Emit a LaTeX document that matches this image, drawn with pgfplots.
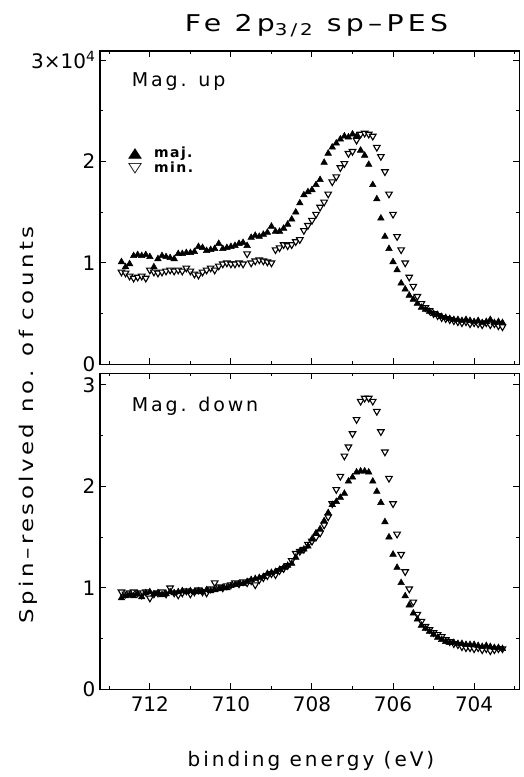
\documentclass[border=0pt]{standalone}
\usepackage{fontspec}
\setmainfont{DejaVu Sans}
\newfontfamily\hfont{DejaVu Sans}[LetterSpace=15]
\newfontfamily\lfont{DejaVu Sans}[LetterSpace=10]
\usepackage{graphicx}
\usepackage{pgfplots}
\usepackage{pgfplotstable}
\pgfplotsset{compat=1.18}

\pgfplotstableread{
E     TM   Tm   BM   Bm
712.7 1.01 0.91 0.90 0.96
712.6 0.96 0.90 0.92 0.94
712.5 0.99 0.87 0.93 0.95
712.4 1.07 0.85 0.92 0.96
712.3 1.08 0.86 0.94 0.95
712.2 1.07 0.87 0.91 0.93
712.1 1.08 0.85 0.95 0.96
712.0 1.06 0.93 0.96 0.90
711.9 0.96 0.91 0.94 0.94
711.8 1.04 0.90 0.95 0.95
711.7 1.07 0.91 0.93 0.96
711.6 1.06 0.92 0.94 0.94
711.5 1.05 0.93 0.96 1.00
711.4 1.04 0.92 0.95 0.95
711.3 1.09 0.93 0.96 0.93
711.2 1.09 0.92 0.97 0.95
711.1 1.10 0.95 0.96 0.97
711.0 1.10 0.92 0.97 0.94
710.9 1.11 0.89 0.96 0.96
710.8 1.16 0.88 0.97 0.98
710.7 1.15 0.91 0.96 0.96
710.6 1.12 0.93 0.98 0.95
710.5 1.13 0.95 0.97 0.99
710.4 1.14 0.93 0.98 1.05
710.3 1.19 0.97 0.99 1.01
710.2 1.14 0.99 1.00 1.00
710.1 1.15 1.00 1.00 1.02
710.0 1.16 0.99 1.02 1.03
709.9 1.17 0.99 1.03 1.05
709.8 1.19 1.00 1.04 1.04
709.7 1.20 0.99 1.04 1.06
709.6 1.17 1.09 1.06 1.05
709.5 1.25 1.00 1.08 1.07
709.4 1.27 1.02 1.09 1.03
709.3 1.26 1.03 1.10 1.08
709.2 1.28 1.02 1.11 1.10
709.1 1.30 1.01 1.14 1.12
709.0 1.36 1.00 1.15 1.14
708.9 1.31 1.13 1.16 1.13
708.8 1.31 1.15 1.18 1.17
708.7 1.34 1.18 1.20 1.19
708.6 1.38 1.17 1.22 1.22
708.5 1.43 1.18 1.24 1.27
708.4 1.50 1.21 1.30 1.34
708.3 1.59 1.23 1.36 1.36
708.2 1.67 1.32 1.38 1.38
708.1 1.70 1.37 1.41 1.43
708.0 1.72 1.42 1.48 1.46
707.9 1.77 1.48 1.54 1.50
707.8 1.82 1.55 1.58 1.54
707.7 1.99 1.60 1.66 1.62
707.6 2.08 1.68 1.74 1.70
707.5 2.14 1.80 1.82 1.83
707.4 2.18 1.85 1.85 1.97
707.3 2.22 1.94 1.89 2.10
707.2 2.25 1.98 1.93 2.30
707.1 2.24 2.08 2.05 2.39
707.0 2.27 2.10 2.09 2.52
706.9 2.25 2.21 2.14 2.66
706.8 2.11 2.27 2.15 2.84
706.7 2.06 2.28 2.15 2.87
706.6 1.97 2.27 2.14 2.87
706.5 1.77 2.25 2.05 2.84
706.4 1.63 2.14 1.95 2.74
706.3 1.44 2.05 1.84 2.54
706.2 1.26 1.90 1.65 2.34
706.1 1.14 1.68 1.50 2.08
706.0 1.01 1.48 1.33 1.83
705.9 0.93 1.26 1.20 1.53
705.8 0.80 1.13 1.05 1.33
705.7 0.74 1.00 0.92 1.16
705.6 0.68 0.86 0.83 0.99
705.5 0.64 0.77 0.75 0.86
705.4 0.60 0.67 0.69 0.74
705.3 0.56 0.60 0.63 0.67
705.2 0.54 0.56 0.60 0.62
705.1 0.52 0.53 0.57 0.59
705.0 0.50 0.50 0.54 0.56
704.9 0.49 0.48 0.51 0.54
704.8 0.47 0.46 0.49 0.52
704.7 0.46 0.45 0.47 0.49
704.6 0.45 0.44 0.46 0.47
704.5 0.44 0.43 0.46 0.45
704.4 0.44 0.42 0.45 0.44
704.3 0.43 0.41 0.45 0.42
704.2 0.44 0.42 0.44 0.41
704.1 0.43 0.40 0.44 0.41
704.0 0.42 0.41 0.44 0.40
703.9 0.43 0.40 0.43 0.41
703.8 0.41 0.39 0.42 0.39
703.7 0.42 0.41 0.43 0.40
703.6 0.44 0.39 0.42 0.38
703.5 0.41 0.40 0.41 0.39
703.4 0.42 0.38 0.41 0.40
703.3 0.41 0.37 0.40 0.40
}\data

\newcommand\tickfont{\fontsize{20}{20}\selectfont}

\pgfplotsset{
  panel/.style={
    scale only axis, width=419.5pt,
    x dir=reverse, xmin=702.88, xmax=713.23, ymin=0,
    xtick={704,706,708,710,712}, minor xtick={703,705,707,709,711,713},
    ytick={0,1,2,3}, minor ytick={0.5,1.5,2.5},
    tick align=inside, tick pos=both,
    xticklabel pos=lower, yticklabel pos=left,
    major tick length=6pt, minor tick length=3pt,
    every tick/.style={black, line width=1pt},
    axis line style={line width=1.4pt},
    /pgf/number format/assume math mode=true,
    yticklabel style={font=\tickfont, xshift=-1pt},
    xticklabel style={font=\tickfont, yshift=-4pt},
    clip=false,
  },
  majst/.style={only marks, mark=triangle*, mark size=3.8pt,
    mark options={fill=black, draw=black, line width=0.5pt}},
  minst/.style={only marks, mark=triangle*, mark size=3.8pt,
    mark options={rotate=180, fill=white, draw=black, line width=1.1pt}},
}

\begin{document}
\begin{tikzpicture}
\path[use as bounding box] (0,0) rectangle (524pt,-777pt);

\begin{axis}[panel, at={(100pt,-51pt)}, anchor=north west, height=313.3pt,
  ymax=3.09, xticklabels={}, yticklabels={0,1,2,3×10\textsuperscript{4}}]
  \addplot[minst] table[x=E,y=Tm]{\data};
  \addplot[majst] table[x=E,y=TM]{\data};
\end{axis}

\begin{axis}[panel, at={(100pt,-373.3pt)}, anchor=north west, height=316pt,
  ymax=3.115, xticklabels={712,710,708,706,704}, xtick={712,710,708,706,704},
  yticklabels={0,1,2,3}]
  \addplot[minst] table[x=E,y=Bm]{\data};
  \addplot[majst] table[x=E,y=BM]{\data};
\end{axis}

\node[anchor=base] at (316.5pt,-31pt)
  {\scalebox{1.35}[1.1]{\hfont\fontsize{21}{21}\selectfont Fe 2p\textsubscript{3/2} sp–PES}};
\node[anchor=base, rotate=90] at (33pt,-425pt)
  {\scalebox{1.27}[1.05]{\hfont\fontsize{18}{18}\selectfont Spin–resolved no. of counts}};
\node[anchor=base] at (311pt,-766.7pt)
  {\hfont\fontsize{20}{20}\selectfont binding energy (eV)};

\node[anchor=base west, inner sep=0pt] at (131.7pt,-86.7pt)
  {\hfont\fontsize{19}{19}\selectfont Mag. up};
\node[anchor=base west, inner sep=0pt] at (131.7pt,-411.7pt)
  {\hfont\fontsize{19}{19}\selectfont Mag. down};
\node[anchor=base west, inner sep=0pt] at (128pt,-157pt)
  {\scalebox{1.3}[1]{\fontsize{14}{14}\selectfont ▲}};
\node[anchor=base west, inner sep=0pt] at (128pt,-172pt)
  {\scalebox{1.3}[1]{\fontsize{14}{14}\selectfont ▽}};
\node[anchor=base west, inner sep=0pt] at (154pt,-157pt)
  {\lfont\bfseries\fontsize{14}{14}\selectfont maj.};
\node[anchor=base west, inner sep=0pt] at (154pt,-172pt)
  {\lfont\bfseries\fontsize{14}{14}\selectfont min.};
\end{tikzpicture}
\end{document}
